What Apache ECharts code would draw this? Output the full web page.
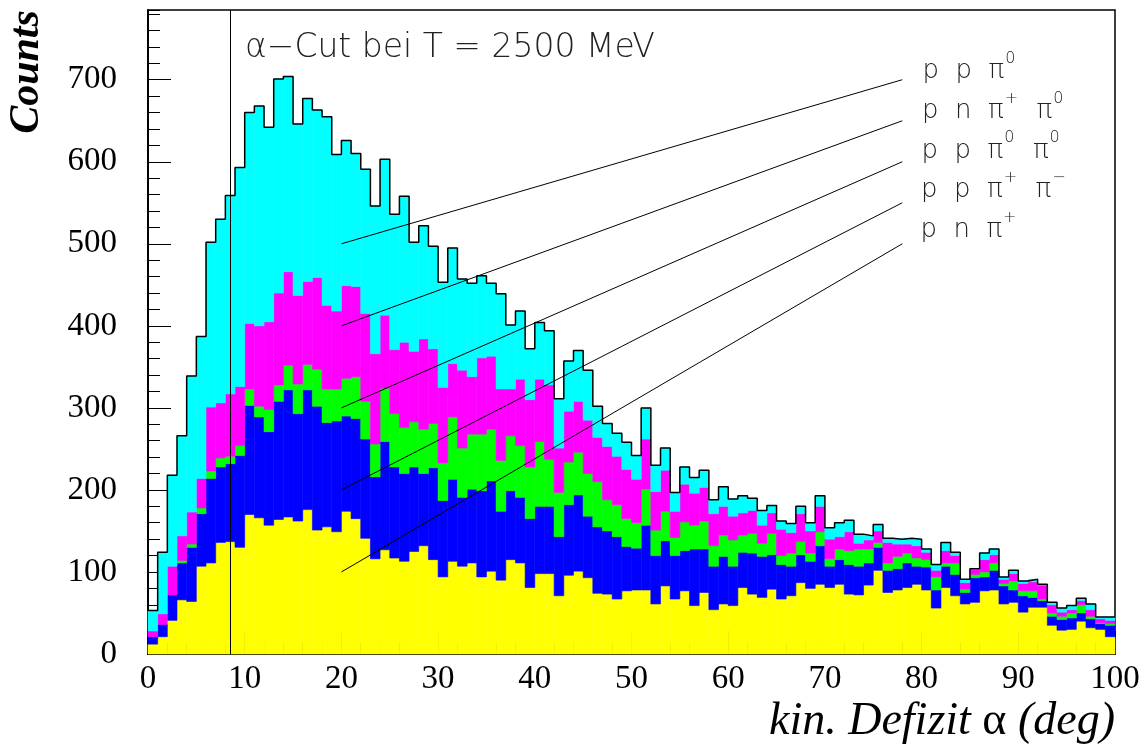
<!DOCTYPE html>
<html>
<head>
<meta charset="utf-8">
<script src="https://cdn.jsdelivr.net/npm/echarts@6.0.0/dist/echarts.min.js"></script>
<style>
  html, body { margin: 0; padding: 0; background: #fff; }
  #chart { width: 1147px; height: 746px; }
</style>
</head>
<body>
<div id="chart"></div>
<script>
// Kinematic deficit alpha, 100 bins of 1 deg from 0 to 100 deg.
const binLow = 0;
const binWidth = 1;
const cutAngle = 8.5;   // alpha cut at T = 2500 MeV

// Counts per bin for each reaction channel (stacked bottom to top).
const pnPip = [
  12, 21, 41, 66, 64, 107, 111, 136, 137, 130,
  170, 166, 157, 164, 167, 162, 176, 151, 155, 149,
  174, 165, 141, 116, 127, 117, 113, 125, 132, 115,
  94, 113, 107, 111, 94, 101, 90, 115, 111, 81,
  98, 98, 71, 96, 101, 93, 74, 73, 67, 77,
  78, 78, 61, 83, 67, 77, 59, 75, 54, 61,
  59, 81, 73, 69, 79, 67, 71, 87, 80, 85,
  81, 85, 73, 72, 84, 102, 75, 78, 81, 85,
  78, 56, 81, 71, 61, 63, 77, 78, 61, 63,
  51, 57, 57, 35, 29, 30, 40, 32, 30, 21
];
const ppPipPim = [
  9, 15, 31, 45, 66, 64, 103, 92, 95, 112,
  133, 123, 114, 144, 155, 131, 146, 151, 127, 135,
  116, 122, 121, 100, 132, 111, 107, 103, 88, 112,
  93, 100, 84, 90, 105, 110, 84, 84, 80, 84,
  82, 82, 72, 86, 93, 75, 81, 77, 76, 54,
  51, 79, 59, 55, 53, 49, 69, 53, 53, 58,
  48, 43, 50, 50, 42, 42, 36, 34, 33, 47,
  26, 30, 36, 35, 27, 28, 27, 26, 30, 22,
  28, 22, 26, 26, 14, 30, 17, 24, 22, 15,
  20, 12, 8, 11, 13, 14, 10, 11, 7, 14
];
const ppPi0Pi0 = [
  0, 0, 0, 3, 4, 7, 9, 11, 9, 12,
  20, 13, 27, 20, 30, 36, 31, 45, 41, 39,
  46, 51, 46, 40, 65, 65, 56, 55, 54, 54,
  46, 76, 60, 67, 69, 63, 62, 67, 63, 63,
  79, 57, 54, 52, 52, 52, 55, 38, 39, 34,
  31, 44, 31, 36, 22, 35, 29, 34, 25, 26,
  32, 21, 24, 16, 26, 11, 16, 16, 10, 17,
  9, 13, 17, 21, 17, 6, 9, 15, 12, 10,
  9, 16, 4, 14, 4, 4, 6, 9, 3, 11,
  6, 8, 2, 4, 4, 6, 10, 3, 1, 2
];
const pnPipPi0 = [
  7, 13, 35, 30, 39, 36, 78, 67, 76, 72,
  80, 98, 107, 112, 114, 108, 101, 112, 102, 95,
  113, 110, 107, 110, 89, 78, 104, 86, 110, 91,
  92, 65, 95, 70, 93, 89, 87, 57, 81, 82,
  76, 91, 54, 62, 62, 65, 54, 65, 59, 60,
  53, 61, 47, 50, 32, 46, 39, 41, 39, 35,
  29, 27, 28, 22, 25, 32, 25, 34, 27, 31,
  24, 15, 23, 7, 11, 14, 25, 15, 11, 15,
  9, 8, 15, 9, 8, 6, 15, 10, 5, 9,
  9, 11, 17, 10, 5, 4, 5, 8, 5, 4
];
const ppPi0 = [
  25, 75, 111, 122, 166, 173, 201, 224, 242, 267,
  257, 268, 237, 261, 238, 209, 223, 204, 230, 191,
  177, 162, 176, 180, 190, 165, 178, 133, 138, 125,
  128, 141, 111, 114, 100, 89, 116, 78, 83, 62,
  69, 66, 60, 61, 62, 61, 38, 28, 28, 33,
  29, 38, 32, 27, 23, 21, 19, 21, 17, 24,
  21, 21, 15, 18, 9, 10, 11, 9, 10, 13,
  14, 17, 14, 11, 5, 8, 5, 6, 7, 8,
  4, 7, 10, 4, 4, 1, 8, 7, 3, 4,
  3, 3, 1, 3, 5, 5, 3, 7, 2, 4
];

// Stack order (bottom first), fill colours and channel labels (rich text).
const channels = [
  { name: 'p n π+',      counts: pnPip,    color: '#ffff00', label: '{t|p  n  π}{s|+}' },
  { name: 'p p π+ π−',   counts: ppPipPim, color: '#0000ff', label: '{t|p  p  π}{s|+}{t|  π}{s|−}' },
  { name: 'p p π0 π0',   counts: ppPi0Pi0, color: '#00ff00', label: '{t|p  p  π}{s|0}{t|  π}{s|0}' },
  { name: 'p n π+ π0',   counts: pnPipPi0, color: '#ff00ff', label: '{t|p  n  π}{s|+}{t|  π}{s|0}' },
  { name: 'p p π0',      counts: ppPi0,    color: '#00ffff', label: '{t|p  p  π}{s|0}' }
];

const serif = '"Liberation Serif", "Times New Roman", serif';
const sans = '"DejaVu Sans", sans-serif';

// Build stacked [binLeft, lower, upper] triples for each channel.
const nBins = pnPip.length;
const running = new Array(nBins).fill(0);
const stackedSeries = channels.map(function (ch) {
  const data = [];
  for (let k = 0; k < nBins; k++) {
    const lo = running[k];
    const hi = lo + ch.counts[k];
    running[k] = hi;
    data.push([binLow + k * binWidth, lo, hi]);
  }
  return {
    name: ch.name,
    type: 'custom',
    coordinateSystem: 'cartesian2d',
    encode: { x: 0, y: [1, 2] },
    itemStyle: { color: ch.color },
    silent: true,
    z: 2,
    renderItem: function (params, api) {
      const x0 = api.value(0), lo = api.value(1), hi = api.value(2);
      if (hi <= lo) return null;
      const p0 = api.coord([x0, lo]);
      const p1 = api.coord([x0 + binWidth, hi]);
      return {
        type: 'rect',
        shape: { x: p0[0], y: p1[1], width: p1[0] - p0[0], height: p0[1] - p1[1] },
        style: { fill: ch.color, stroke: ch.color, lineWidth: 0.6 }
      };
    },
    data: data
  };
});

// Outline of the summed histogram.
const outline = [];
for (let k = 0; k < nBins; k++) outline.push([binLow + k * binWidth, running[k]]);
outline.push([binLow + nBins * binWidth, running[nBins - 1]]);

// Pointer lines from each colour band to its channel label (top label first).
const pointers = [
  { from: [20, 500], to: [78, 700], ch: 4 },
  { from: [20, 400], to: [78, 650], ch: 3 },
  { from: [20, 300], to: [78, 600], ch: 2 },
  { from: [20, 200], to: [78, 550], ch: 1 },
  { from: [20, 100], to: [78, 500], ch: 0 }
];

const markData = [{ xAxis: cutAngle, label: { show: false } }].concat(
  pointers.map(function (p) {
    return [
      { coord: p.from, label: { formatter: channels[p.ch].label } },
      { coord: p.to }
    ];
  })
);

const chart = echarts.init(document.getElementById('chart'), null, { renderer: 'canvas' });

const option = {
  animation: false,
  backgroundColor: '#fff',
  grid: {
    left: 148, right: 32, top: 10, bottom: 92,
    show: true, borderColor: '#000', borderWidth: 1.5,
    backgroundColor: 'transparent',
    outerBoundsMode: 'none'
  },
  xAxis: {
    type: 'value', min: 0, max: 100, interval: 10,
    axisLine: { show: true, onZero: false, lineStyle: { color: '#000', width: 2 } },
    axisTick: { show: true, inside: true, length: 23, lineStyle: { color: '#000', width: 1 } },
    minorTick: { show: true, splitNumber: 5, length: 12, lineStyle: { color: '#000', width: 1 } },
    splitLine: { show: false },
    minorSplitLine: { show: false },
    axisLabel: { color: '#000', fontFamily: serif, fontSize: 33, margin: 9 }
  },
  yAxis: [
    {
      type: 'value', min: 0, max: 785, interval: 100,
      axisLine: { show: true, onZero: false, lineStyle: { color: '#000', width: 2 } },
      axisTick: { show: true, inside: true, length: 23, lineStyle: { color: '#000', width: 1 } },
      splitLine: { show: false },
      axisLabel: { color: '#000', fontFamily: serif, fontSize: 33, margin: 31, showMaxLabel: false }
    },
    {
      // finer ticks every 20 counts
      type: 'value', min: 0, max: 785, interval: 20, position: 'left',
      axisLine: { show: false },
      axisTick: { show: true, inside: true, length: 12, lineStyle: { color: '#000', width: 1 } },
      splitLine: { show: false },
      axisLabel: { show: false }
    }
  ],
  series: stackedSeries.concat([{
    name: 'total',
    type: 'line',
    step: 'end',
    data: outline,
    symbol: 'none',
    silent: true,
    z: 5,
    lineStyle: { color: '#000', width: 1.5 },
    markLine: {
      silent: true,
      symbol: ['none', 'none'],
      animation: false,
      lineStyle: { color: '#000', width: 1, type: 'solid' },
      emphasis: { disabled: true },
      label: {
        show: true,
        position: 'end',
        distance: 21,
        rich: {
          t: { fontFamily: sans, fontWeight: 200, fontSize: 26, color: '#222', padding: [0, 0, 5, 0] },
          s: { fontFamily: sans, fontWeight: 200, fontSize: 16, color: '#222', padding: [0, 2, 30, 1] }
        }
      },
      data: markData
    }
  }]),
  graphic: [
    {
      type: 'text', x: 27, y: 72, rotation: Math.PI / 2,
      style: {
        text: 'Counts', fill: '#000',
        fontFamily: serif, fontSize: 42, fontWeight: 'bold', fontStyle: 'italic',
        align: 'center', verticalAlign: 'middle'
      }
    },
    {
      type: 'text', x: 1115, y: 722,
      style: {
        text: '{i|kin. Defizit }{a|α}{i| (deg)}',
        align: 'right', verticalAlign: 'middle',
        rich: {
          i: { fontFamily: serif, fontSize: 46, fontStyle: 'italic', fill: '#000' },
          a: { fontFamily: serif, fontSize: 46, fill: '#000' }
        }
      }
    },
    {
      type: 'text', x: 245, y: 48,
      style: {
        text: 'α−Cut bei T = 2500 MeV', fill: '#222',
        fontFamily: sans, fontWeight: 200, fontSize: 33,
        align: 'left', verticalAlign: 'middle'
      }
    }
  ]
};

chart.setOption(option);
</script>
</body>
</html>
